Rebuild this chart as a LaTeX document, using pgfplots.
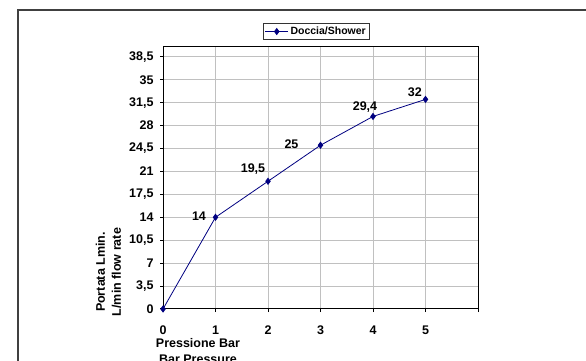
\documentclass[border=0pt]{standalone}
\usepackage{pgfplots}
\pgfplotsset{compat=1.18}
\usepackage{fontspec}
\setmainfont{Liberation Sans}
\definecolor{navy}{RGB}{0,0,128}
\definecolor{gridgray}{RGB}{192,192,192}
\begin{document}
\begin{tikzpicture}[x=1pt,y=1pt]
\useasboundingbox (0,0) rectangle (586,361);
\begin{scope}
\clip (0,0) rectangle (586,361);
\draw[black!75, line width=1.5pt] (18,-10) -- (18,351) -- (600,351);
\begin{axis}[
  at={(163pt,52pt)}, anchor=south west,
  scale only axis, width=315pt, height=262pt,
  xmin=0, xmax=6, ymin=0, ymax=40,
  xtick={0,1,2,3,4,5,6}, xticklabels={0,1,2,3,4,5,{}},
  ytick={0,3.5,7,10.5,14,17.5,21,24.5,28,31.5,35,38.5},
  /pgf/number format/.cd, use comma, fixed, assume math mode=true, /pgfplots/.cd,
  grid=major, major grid style={gridgray, line width=1pt},
  axis line style={black, line width=1pt},
  tick align=outside, tick pos=left, major tick length=3pt,
  tick style={black, line width=1pt},
  ticklabel style={font=\fontsize{12.5}{14}\selectfont\bfseries},
  xticklabel style={yshift=-10pt},
  yticklabel style={xshift=-3pt},
  xlabel={Pressione Bar\\Bar Pressure},
  ylabel={Portata Lmin.\\L/min flow rate},
  xlabel style={at={(axis description cs:0.111,-0.160)}, anchor=center, align=center, font=\fontsize{12.5}{16}\selectfont\bfseries},
  ylabel style={at={(axis description cs:-0.173,0.141)}, anchor=center, align=center, font=\fontsize{12.5}{16}\selectfont\bfseries},
  legend style={at={(axis description cs:0.487,1.059)}, anchor=center, draw=black!80, line width=1pt, font=\fontsize{10.5}{12}\selectfont\bfseries, inner sep=1.5pt},
  legend image code/.code={\draw[mark repeat=2,mark phase=2] plot coordinates {(0cm,0cm)(0.4cm,0cm)(0.8cm,0cm)};},
]
\addplot[navy, line width=0.8pt, mark=diamond*, mark size=3pt, mark options={fill=navy, solid}] table {
x y
0 0
1 14
2 19.5
3 25
4 29.4
5 32
};
\addlegendentry{Doccia/Shower}
\addplot[draw=none, mark=none, forget plot, nodes near coords, point meta=explicit symbolic,
  visualization depends on={\thisrow{dx}\as\dx},
  visualization depends on={\thisrow{dy}\as\dy},
  nodes near coords style={anchor=center, xshift=\dx pt, yshift=\dy pt, font=\fontsize{12.5}{14}\selectfont\bfseries, text=black}]
  table[x=x, y=y, meta=lab] {
x y lab dx dy
1 14 14 -16.5 1
2 19.5 19,5 -15 12
3 25 25 -29 1
4 29.4 29,4 -8 9
5 32 32 -10.6 7.4
};
\end{axis}
\end{scope}
\end{tikzpicture}
\end{document}
